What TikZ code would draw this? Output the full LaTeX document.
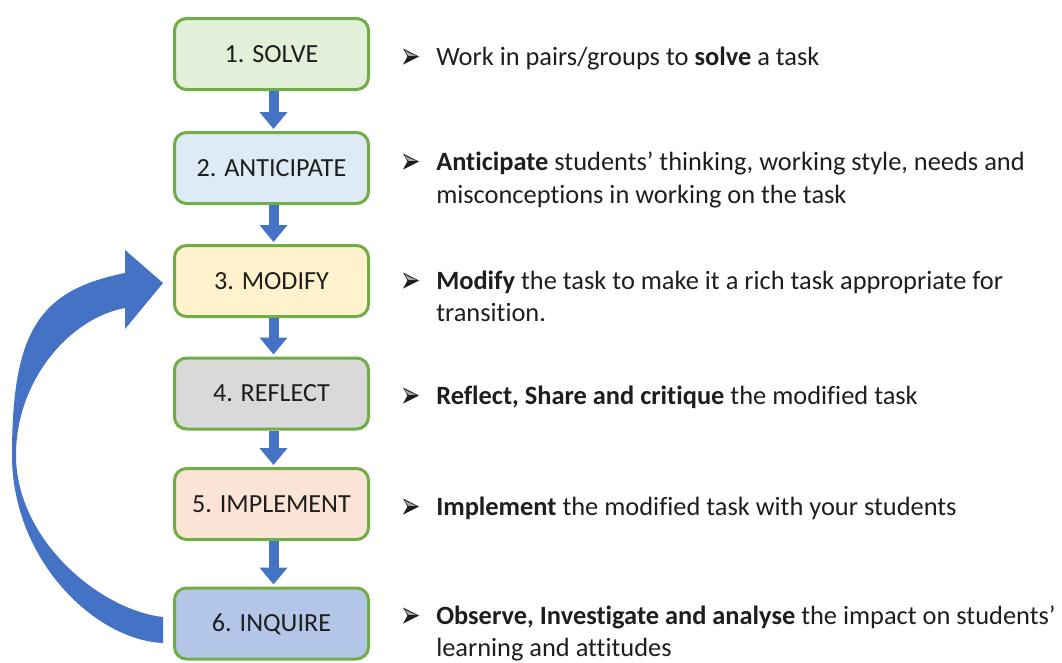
\documentclass[tikz,border=0pt]{standalone}
\usepackage{fontspec}
\setmainfont{Carlito}[Ligatures={NoCommon}]
\usetikzlibrary{arrows.meta,calc}

\definecolor{flowblue}{HTML}{4472C4}
\definecolor{edgegreen}{HTML}{70AD47}
\definecolor{fillA}{HTML}{E2EFD9}
\definecolor{fillB}{HTML}{DEEAF6}
\definecolor{fillC}{HTML}{FFF2CC}
\definecolor{fillD}{HTML}{D9D9D9}
\definecolor{fillE}{HTML}{FBE4D5}
\definecolor{fillF}{HTML}{B4C6E7}
\definecolor{ink}{HTML}{1E1E1E}

\tikzset{
  stage/.style={draw=edgegreen, line width=2.25pt, rounded corners=9pt,
    minimum width=145.5pt, minimum height=53.25pt, inner sep=0pt,
    text height=12.6pt, text depth=0pt, text=ink,
    font=\fontsize{19.6pt}{24pt}\selectfont},
  desc/.style={anchor=base west, inner sep=0pt, text=ink,
    font=\fontsize{19.8pt}{24pt}\selectfont},
  downlink/.style={flowblue, line width=7.5pt,
    -{Triangle[width=20.25pt, length=12.75pt]}, shorten >=1.5pt},
}

\begin{document}
\begin{tikzpicture}[x=0.75pt, y=-0.75pt]
  \useasboundingbox (0,0) rectangle (1062,662);

  % stages
  \node[stage, fill=fillA] (b1) at (271.5,54)    {1. SOLVE};
  \node[stage, fill=fillB] (b2) at (271.5,168)   {2. ANTICIPATE};
  \node[stage, fill=fillC] (b3) at (271.5,281)   {3. MODIFY};
  \node[stage, fill=fillD] (b4) at (271.5,393.5) {4. REFLECT};
  \node[stage, fill=fillE] (b5) at (271.5,504)   {5. IMPLEMENT};
  \node[stage, fill=fillF] (b6) at (271.5,623.5) {6. INQUIRE};

  % downward links between consecutive stages
  \foreach \a/\b in {b1/b2, b2/b3, b3/b4, b4/b5, b5/b6}
    \draw[downlink] ([xshift=1.5pt]\a.south) -- ([xshift=1.5pt]\b.north);

  % feedback arrow from stage 6 back to stage 3
  \fill[flowblue] (163,617) -- (163,643)
    .. controls (95,640) and (12,560) .. (12,455)
    .. controls (12,330) and (40,290) .. (125,273)
    -- (125,250) -- (163,283) -- (125,329) -- (125,308)
    .. controls (70,318) and (16,380) .. (16,455)
    .. controls (16,540) and (100,610) .. (163,617)
    -- cycle;

  % descriptions
  \node[desc] (d1)  at (436,65)  {Work in pairs/groups to \textbf{solve} a task};
  \node[desc] (d2)  at (436,170) {\textbf{Anticipate} students’ thinking, working style, needs and};
  \node[desc] (d2x) at (436,203) {misconceptions in working on the task};
  \node[desc] (d3)  at (436,289) {\textbf{Modify} the task to make it a rich task appropriate for};
  \node[desc] (d3x) at (436,321) {transition.};
  \node[desc] (d4)  at (436,404) {\textbf{Reflect, Share and critique} the modified task};
  \node[desc] (d5)  at (436,515) {\textbf{Implement} the modified task with your students};
  \node[desc] (d6)  at (436,624) {\textbf{Observe, Investigate and analyse} the impact on students’};
  \node[desc] (d6x) at (436,656) {learning and attitudes};

  % arrowhead bullets in front of each description
  \foreach \d in {d1,d2,d3,d4,d5,d6} {
    \coordinate (c) at ($(\d.base west)+(-25,-8.5)$);
    \fill[ink] ($(c)+(-8,-8)$) -- ($(c)+(8,0)$) -- ($(c)+(-8,8)$) -- ($(c)+(-3.5,0)$) -- cycle;
    \fill[gray!70] ($(c)+(-6.5,-5.8)$) -- ($(c)+(5,-0.6)$) -- ($(c)+(-2.6,-0.6)$) -- cycle;
  }
\end{tikzpicture}
\end{document}
